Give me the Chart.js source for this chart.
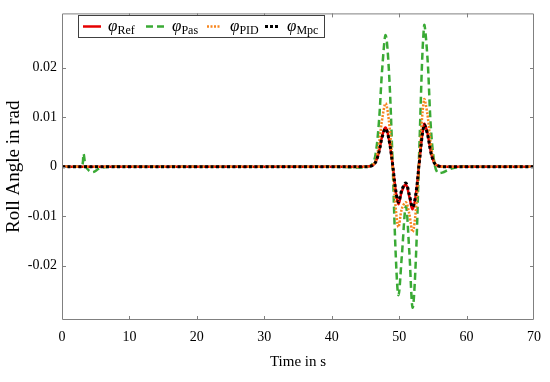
<!DOCTYPE html>
<html>
<head>
<meta charset="utf-8">
<script src="https://cdn.jsdelivr.net/npm/chart.js@4"></script>
<style>
html,body{margin:0;padding:0;background:#fff;}
#wrap{position:relative;width:550px;height:382px;}
#legend{position:absolute;left:78px;top:15px;width:245px;height:21px;border:1px solid #404040;background:#fff;font-family:'Liberation Serif',serif;}
.item{position:absolute;top:0;height:21px;line-height:21px;white-space:nowrap;}
.item svg{position:absolute;top:0;left:0;}
.lab{position:absolute;top:-1px;font-size:17px;font-style:italic;}
.lab sub{font-size:12px;font-style:normal;vertical-align:-3px;}
</style>
</head>
<body>
<div id="wrap">
<canvas id="c" width="550" height="382"></canvas>
<div id="legend">
  <div class="item" style="left:4px"><svg width="20" height="21"><line x1="0" y1="10.5" x2="18" y2="10.5" stroke="#e60000" stroke-width="2.5"/></svg><span class="lab" style="left:25px">φ<sub>Ref</sub></span></div>
  <div class="item" style="left:67px"><svg width="20" height="21"><line x1="0" y1="10.5" x2="18" y2="10.5" stroke="#3aaa35" stroke-width="2.5" stroke-dasharray="7,4"/></svg><span class="lab" style="left:26px">φ<sub>Pas</sub></span></div>
  <div class="item" style="left:128px"><svg width="20" height="21"><line x1="0" y1="10.5" x2="14" y2="10.5" stroke="#f7861f" stroke-width="2.5" stroke-dasharray="2,1.5"/></svg><span class="lab" style="left:23px">φ<sub>PID</sub></span></div>
  <div class="item" style="left:186px"><svg width="20" height="21"><line x1="0" y1="10.5" x2="15" y2="10.5" stroke="#000" stroke-width="3" stroke-dasharray="3,2"/></svg><span class="lab" style="left:22px">φ<sub>Mpc</sub></span></div>
</div>
</div>
<script>
// Time samples (s)
const times = [0, 2.5, 3, 3.2, 3.5, 4, 4.6, 5.5, 7, 10,
  20, 30, 40, 45,
  46, 46.5, 47, 47.5, 48,
  48.5, 49, 49.5, 49.9, 50.4,
  51, 51.5, 52, 52.5, 53,
  53.7, 54.2, 54.7, 55.2, 55.7,
  56.4, 57.5, 59, 62, 70];

const phiRef = [0,0,0,0,0,0,0,0,0,0,
  0,0,0,0,
  0.0002,0.0009,0.0030,0.0063,0.0079,
  0.0055,0.0008,-0.0050,-0.0076,-0.0050,
  -0.0036,-0.0060,-0.0086,-0.0055,0.0010,
  0.0086,0.0068,0.0030,0.0008,0.0002,
  0,0,0,0,0];

const phiPas = [0,0,0.0002,0.0026,0.0002,-0.0008,-0.0011,-0.0004,0,0,
  0,0,0,-0.0001,
  0.0005,0.0025,0.0090,0.0200,0.0266,
  0.0190,0.0020,-0.0180,-0.0260,-0.0180,
  -0.0080,-0.0170,-0.0285,-0.0180,0.0040,
  0.0285,0.0220,0.0080,0.0010,-0.0012,
  -0.0012,-0.0005,0,0,0];

const phiPID = [0,0,0,0,0,0,0,0,0,0,
  0,0,0,0,
  0.0003,0.0012,0.0045,0.0098,0.0128,
  0.0090,0.0008,-0.0085,-0.0122,-0.0085,
  -0.0072,-0.0095,-0.0132,-0.0085,0.0015,
  0.0136,0.0105,0.0045,0.0010,0.0001,
  0,0,0,0,0];

const phiMpc = [0,0,0,0,0,0,0,0,0,0,
  0,0,0,0,
  0.0002,0.0009,0.0029,0.0061,0.0077,
  0.0054,0.0008,-0.0048,-0.0072,-0.0047,
  -0.0033,-0.0056,-0.0082,-0.0053,0.0010,
  0.0084,0.0066,0.0029,0.0008,0.0002,
  0,0,0,0,0];

const xTicks = [0, 10, 20, 30, 40, 50, 60, 70];
const yTicks = [-0.02, -0.01, 0, 0.01, 0.02];
const yTickLabels = ['-0.02', '-0.01', '0', '0.01', '0.02'];

const pts = arr => arr.map((v, i) => ({x: times[i], y: v}));

const frame = {
  id: 'frame',
  afterDatasetsDraw(chart) {
    const {ctx, chartArea: a, scales: {x, y}} = chart;
    ctx.save();
    ctx.strokeStyle = '#808080';
    ctx.lineWidth = 1;
    ctx.beginPath();
    ctx.rect(a.left + 0.5, a.top + 0.5, a.right - a.left - 1, a.bottom - a.top - 1);
    const L = 4;
    xTicks.forEach(v => {
      if (v === xTicks[0] || v === xTicks[xTicks.length - 1]) return;
      const px = Math.round(x.getPixelForValue(v)) + 0.5;
      ctx.moveTo(px, a.bottom); ctx.lineTo(px, a.bottom - L);
      ctx.moveTo(px, a.top); ctx.lineTo(px, a.top + L);
    });
    yTicks.forEach(v => {
      const py = Math.round(y.getPixelForValue(v)) + 0.5;
      ctx.moveTo(a.left, py); ctx.lineTo(a.left + L, py);
      ctx.moveTo(a.right, py); ctx.lineTo(a.right - L, py);
    });
    ctx.stroke();
    ctx.restore();
  }
};

new Chart(document.getElementById('c'), {
  type: 'line',
  data: {
    datasets: [
      {label: 'Ref', data: pts(phiRef), borderColor: '#e60000', borderWidth: 2.5, order: 3},
      {label: 'Pas', data: pts(phiPas), borderColor: '#3aaa35', borderWidth: 2.5, borderDash: [7, 4], order: 4},
      {label: 'PID', data: pts(phiPID), borderColor: '#f7861f', borderWidth: 2.5, borderDash: [2, 1.5], order: 2},
      {label: 'Mpc', data: pts(phiMpc), borderColor: '#000000', borderWidth: 3, borderDash: [3, 2.5], order: 1}
    ]
  },
  options: {
    responsive: false,
    animation: false,
    devicePixelRatio: 1,
    parsing: true,
    elements: {point: {radius: 0}, line: {tension: 0.35, fill: false, borderCapStyle: 'butt'}},
    layout: {padding: {left: 0, top: 7, right: 15, bottom: 0}},
    plugins: {legend: {display: false}, tooltip: {enabled: false}},
    scales: {
      x: {
        type: 'linear', min: 0, max: 70,
        afterBuildTicks: s => { s.ticks = xTicks.map(v => ({value: v})); },
        afterFit: s => { s.height = 62; },
        grid: {display: false, drawTicks: false},
        border: {display: false},
        ticks: {padding: 9, color: '#000', font: {family: 'Liberation Serif', size: 14}, maxRotation: 0,
                callback: v => String(v)},
        title: {display: true, text: 'Time in s', color: '#000', font: {family: 'Liberation Serif', size: 15},
                padding: {top: 0, bottom: 11}}
      },
      y: {
        type: 'linear', min: -0.031, max: 0.031,
        afterBuildTicks: s => { s.ticks = yTicks.map(v => ({value: v})); },
        afterFit: s => { s.width = 62; },
        grid: {display: false, drawTicks: false},
        border: {display: false},
        ticks: {padding: 5, color: '#000', font: {family: 'Liberation Serif', size: 14},
                callback: v => { const i = yTicks.findIndex(t => Math.abs(t - v) < 1e-9); return i >= 0 ? yTickLabels[i] : ''; }},
        title: {display: true, text: 'Roll Angle in rad', color: '#000', font: {family: 'Liberation Serif', size: 19},
                padding: {top: 3, bottom: 0}}
      }
    }
  },
  plugins: [frame]
});
</script>
</body>
</html>
